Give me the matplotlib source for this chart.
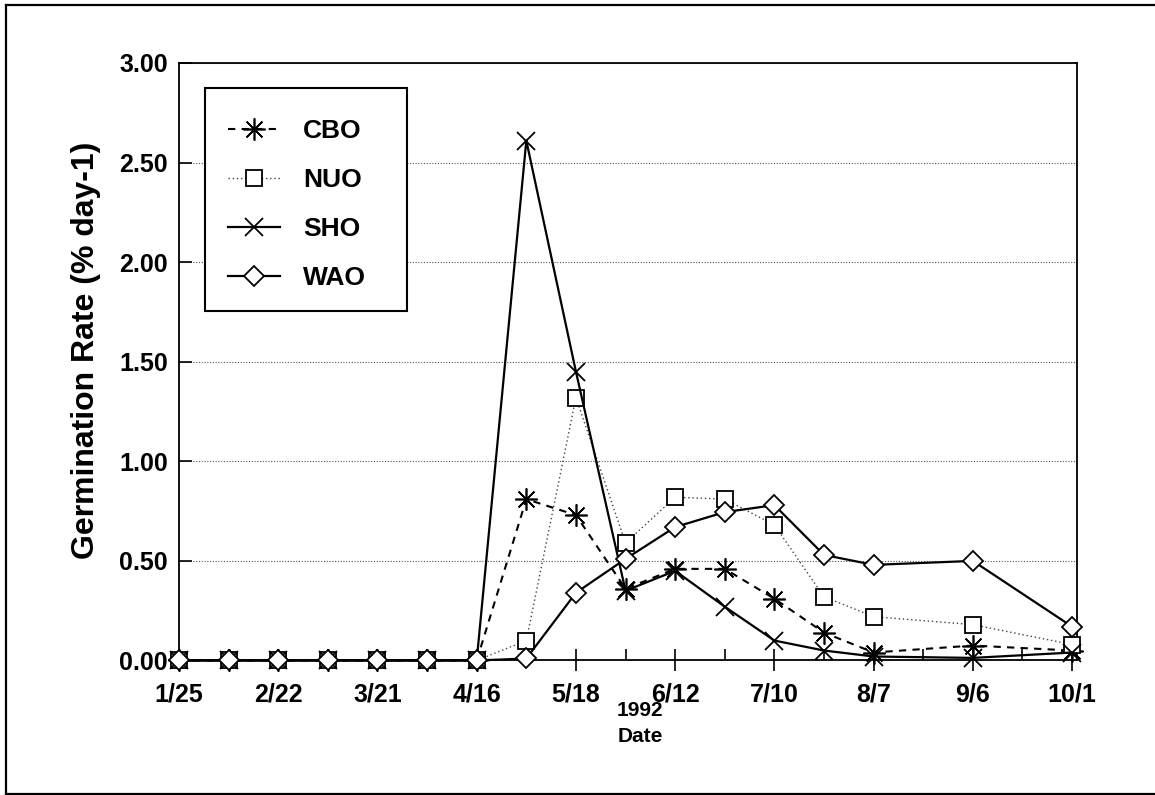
import matplotlib
matplotlib.use("Agg")
import matplotlib.pyplot as plt
from matplotlib.patches import Rectangle
from matplotlib.lines import Line2D

plt.rcParams['font.family'] = ['Liberation Sans', 'DejaVu Sans']
plt.rcParams['font.weight'] = 'bold'

# Data (x = half-step index on the categorical date axis)
x_pos = [0, 1, 2, 3, 4, 5, 6, 7, 8, 9, 10, 11, 12, 13, 14, 16, 18]
tick_labels = ['1/25', '2/22', '3/21', '4/16', '5/18', '6/12', '7/10', '8/7', '9/6', '10/1']
y_ticks = [0, 0.5, 1.0, 1.5, 2.0, 2.5, 3.0]
cbo = [0, 0, 0, 0, 0, 0, 0, 0.81, 0.73, 0.36, 0.46, 0.46, 0.31, 0.14, 0.04, 0.075, 0.05]
nuo = [0, 0, 0, 0, 0, 0, 0, 0.10, 1.32, 0.59, 0.82, 0.81, 0.68, 0.32, 0.22, 0.18, 0.08]
sho = [0, 0, 0, 0, 0, 0, 0, 2.61, 1.45, 0.35, 0.45, 0.27, 0.10, 0.05, 0.02, 0.013, 0.04]
wao = [0, 0, 0, 0, 0, 0, 0, 0.01, 0.34, 0.51, 0.67, 0.745, 0.78, 0.53, 0.48, 0.50, 0.17]

fig = plt.figure(figsize=(11.55, 7.95), dpi=100)
ax = fig.add_axes([0.155, 0.1692, 0.7775, 0.7516])

ax.plot(x_pos, cbo, color='black', lw=1.5, ls=(0, (3.5, 3)), marker=(8, 2, 0),
        ms=16, mew=1.2, label='CBO', clip_on=False, zorder=3)
ax.plot(x_pos, nuo, color='#444444', lw=1.0, ls=(0, (1, 2)), marker='s',
        ms=11, mfc='white', mec='black', mew=1.3, label='NUO', clip_on=False, zorder=3)
ax.plot(x_pos, sho, color='black', lw=1.6, ls='-', marker='x',
        ms=13, mew=1.3, label='SHO', clip_on=False, zorder=3)
ax.plot(x_pos, wao, color='black', lw=1.6, ls='-', marker='D',
        ms=10, mfc='white', mec='black', mew=1.3, label='WAO', clip_on=False, zorder=3)

ax.set_xlim(0, 18.1)
ax.set_ylim(0, 3.0)
ax.set_xticks(range(0, 19, 2))
ax.set_xticklabels(tick_labels)
ax.set_xticks(range(1, 18, 2), minor=True)
ax.set_yticks(y_ticks)
ax.set_yticklabels(['%.2f' % v for v in y_ticks])
ax.tick_params(axis='x', which='major', direction='inout', length=16, width=1.2,
               labelsize=18, pad=8)
ax.tick_params(axis='x', which='minor', direction='in', length=8, width=1.2)
ax.tick_params(axis='y', direction='in', length=9, width=1.2, labelsize=18, pad=8)
for lbl in ax.get_xticklabels() + ax.get_yticklabels():
    lbl.set_fontweight('bold')

ax.yaxis.grid(True, ls=(0, (1, 1.5)), color='#555555', lw=0.8)
ax.set_axisbelow(True)
for s in ax.spines.values():
    s.set_linewidth(1.3)

fig.text(0.0745, 0.5597, 'Germination Rate (% day-1)', rotation=90, ha='center',
         va='center', fontsize=23, fontweight='bold')
fig.text(0.554, 0.1057, '1992', ha='center', va='center', fontsize=15, fontweight='bold')
fig.text(0.554, 0.0742, 'Date', ha='center', va='center', fontsize=15, fontweight='bold')

# Legend box drawn separately, entries without frame
ax.add_patch(Rectangle((0.029, 0.585), 0.225, 0.373, transform=ax.transAxes,
                       facecolor='white', edgecolor='black', lw=1.5, zorder=4))
leg = ax.legend(loc='upper left', bbox_to_anchor=(0.0546, 0.9065), borderaxespad=0,
                frameon=False, handlelength=1.95, handletextpad=0.9,
                labelspacing=0.95, borderpad=0,
                prop={'weight': 'bold', 'size': 19})
leg.set_zorder(5)

# Page frame
for xs, ys in [((0.0052, 1.0), (0.9937, 0.9937)),
               ((0.0052, 0.0052), (0.0013, 0.9937)),
               ((0.0052, 1.0), (0.0013, 0.0013))]:
    fig.lines.append(Line2D(xs, ys, transform=fig.transFigure, color='black', lw=1.6))

fig.savefig('out.png', dpi=100)
